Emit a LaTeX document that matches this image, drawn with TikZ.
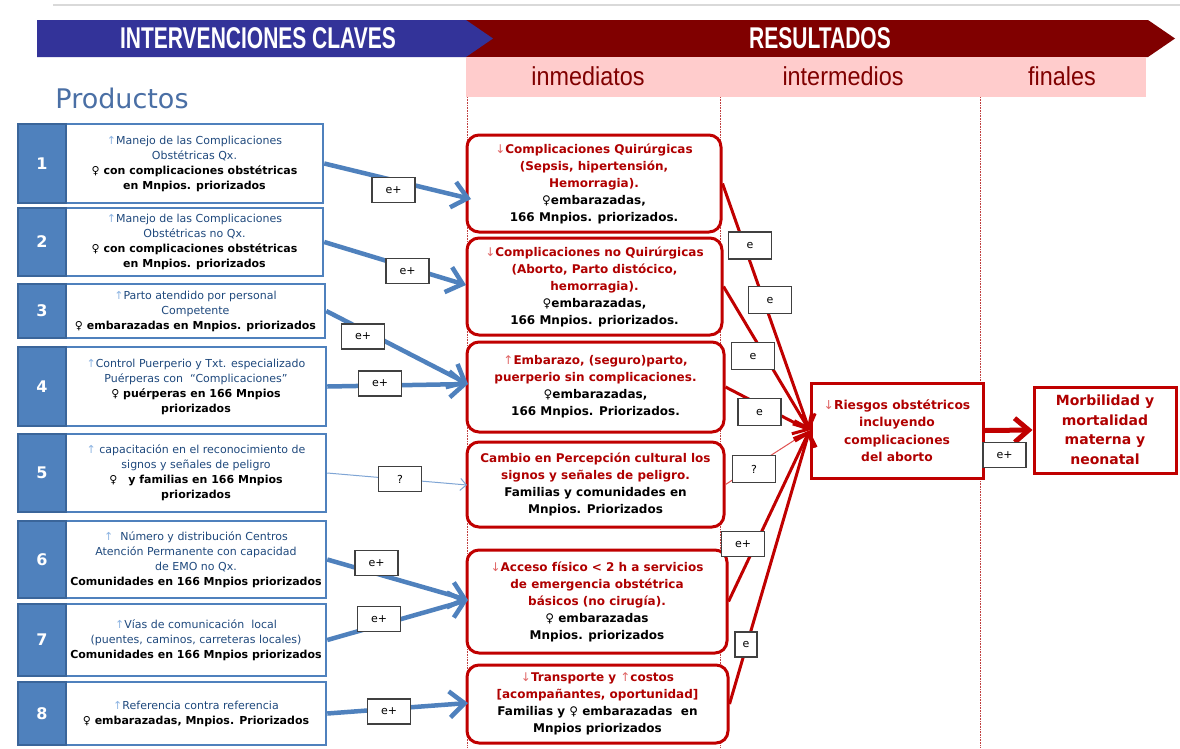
\documentclass[tikz,border=0pt]{standalone}
\usepackage{fontspec}
\setmainfont{DejaVu Sans}
\newfontfamily\arialf{Liberation Sans}
\usetikzlibrary{arrows.meta,calc}
\definecolor{bannerblue}{HTML}{333399}
\definecolor{bannerred}{HTML}{800000}
\definecolor{pinkband}{HTML}{FFCCCC}
\definecolor{boxblue}{HTML}{4F81BD}
\definecolor{boxblueD}{HTML}{3A659A}
\definecolor{txtblue}{HTML}{1F497D}
\definecolor{arrowlight}{HTML}{8DB4E2}
\definecolor{arrowpink}{HTML}{E06666}
\definecolor{boxred}{HTML}{C00000}
\definecolor{txtred}{HTML}{B00000}
\definecolor{maroonc}{HTML}{800000}
\definecolor{dotred}{HTML}{C04040}
\definecolor{prodblue}{HTML}{4A6FA5}
\definecolor{thinblue}{HTML}{7FA5D5}
\definecolor{thinred}{HTML}{E05050}
\newcommand{\fem}{{\mdseries ♀}}
\newcommand{\upb}{{\mdseries\color{arrowlight}↑}}
\newcommand{\upr}{{\mdseries\color{arrowpink}↑}}
\newcommand{\dnr}{{\mdseries\color{arrowpink}↓}}
\begin{document}
\begin{tikzpicture}[x=1pt,y=-1pt,
  lbtext/.style={draw=boxblue, line width=2.5, fill=white, align=center, inner sep=0,
     font=\fontsize{11}{15}\selectfont},
  numbox/.style={draw=boxblueD, fill=boxblue, line width=2.5, text=white, minimum width=48,
     font=\bfseries\fontsize{16}{16}\selectfont},
  rbox/.style={draw=boxred, line width=3, rounded corners=12, fill=white, align=center,
     inner sep=0, font=\bfseries\fontsize{12}{17}\selectfont},
  lab/.style={draw=black!75, line width=1.2, fill=white, font=\fontsize{11}{11}\selectfont,
     minimum width=43, minimum height=25, inner sep=0},
  bluearrow/.style={draw=boxblue, line width=4.5, -{Straight Barb[length=15pt,width=26pt]}},
  thinbluearrow/.style={draw=thinblue, line width=1, -{Straight Barb[length=6pt,width=12pt]}},
  redarrow/.style={draw=boxred, line width=3, -{Straight Barb[length=12pt,width=22pt]}},
  thinredarrow/.style={draw=thinred, line width=1},
  divider/.style={dotred, densely dotted, line width=0.6},
  colhead/.style={text=maroonc, font=\arialf\fontsize{26}{26}\selectfont}
]
\useasboundingbox (0,0) rectangle (1180,748);
\fill[white] (0,0) rectangle (1180,748);
% top line
\draw[black!15, line width=1.5] (53,5) -- (1180,5);
% banners
\fill[bannerred] (466,20) -- (1148,20) -- (1175,38.5) -- (1148,57) -- (466,57) -- cycle;
\fill[bannerblue] (37,20) -- (466,20) -- (493,38.5) -- (466,57) -- (37,57) -- cycle;
\node[text=white, font=\arialf\bfseries\fontsize{30}{30}\selectfont] (hdrL) at (258,38.5)
  {\scalebox{0.7}[1]{INTERVENCIONES CLAVES}};
\node[text=white, font=\arialf\bfseries\fontsize{30}{30}\selectfont] (hdrR) at (820,38.5)
  {\scalebox{0.7}[1]{RESULTADOS}};
\fill[pinkband] (466,57) rectangle (1146,97);
\node[colhead] (c1) at (588,76) {\scalebox{0.9}[1]{inmediatos}};
\node[colhead] (c2) at (843,76) {\scalebox{0.9}[1]{intermedios}};
\node[colhead] (c3) at (1062,76) {\scalebox{0.9}[1]{finales}};
% dividers
\draw[divider] (467,97) -- (467,748);
\draw[divider] (720,97) -- (720,748);
\draw[divider] (980,97) -- (980,748);
% Productos
\node[text=prodblue, font=\fontsize{27}{27}\selectfont] (prod) at (122,98) {Productos};

% left boxes
\node[lbtext, minimum width=257, minimum height=79] (b1) at (194.5,163.5)
 {\textcolor{txtblue}{\upb Manejo de las Complicaciones}\\ \textcolor{txtblue}{Obstétricas Qx.}\\
  \textbf{\fem\ con complicaciones obstétricas}\\ \textbf{en Mnpios. priorizados}};
\node[numbox, minimum height=79] (n1) at (42,163.5) {1};
\node[lbtext, minimum width=257, minimum height=68] (b2) at (194.5,242)
 {\textcolor{txtblue}{\upb Manejo de las Complicaciones}\\ \textcolor{txtblue}{Obstétricas no Qx.}\\
  \textbf{\fem\ con complicaciones obstétricas}\\ \textbf{en Mnpios. priorizados}};
\node[numbox, minimum height=68] (n2) at (42,242) {2};
\node[lbtext, minimum width=259, minimum height=54] (b3) at (195.5,311)
 {\textcolor{txtblue}{\upb Parto atendido por personal}\\ \textcolor{txtblue}{Competente}\\
  \textbf{\fem\ embarazadas en Mnpios. priorizados}};
\node[numbox, minimum height=54] (n3) at (42,311) {3};
\node[lbtext, minimum width=260, minimum height=79] (b4) at (196,386.5)
 {\textcolor{txtblue}{\upb Control Puerperio y Txt. especializado}\\ \textcolor{txtblue}{Puérperas con~ “Complicaciones”}\\
  \textbf{\fem\ puérperas en 166 Mnpios}\\ \textbf{priorizados}};
\node[numbox, minimum height=79] (n4) at (42,386.5) {4};
\node[lbtext, minimum width=260, minimum height=78] (b5) at (196,473)
 {\textcolor{txtblue}{\upb\ capacitación en el reconocimiento de}\\ \textcolor{txtblue}{signos y señales de peligro}\\
  \textbf{\fem\quad y familias en 166 Mnpios}\\ \textbf{priorizados}};
\node[numbox, minimum height=78] (n5) at (42,473) {5};
\node[lbtext, minimum width=260, minimum height=77] (b6) at (196,559.5)
 {\textcolor{txtblue}{\upb\ ~Número y distribución Centros}\\ \textcolor{txtblue}{Atención Permanente con capacidad}\\
  \textcolor{txtblue}{de EMO no Qx.}\\ \textbf{Comunidades en 166 Mnpios priorizados}};
\node[numbox, minimum height=77] (n6) at (42,559.5) {6};
\node[lbtext, minimum width=260, minimum height=72] (b7) at (196,640)
 {\textcolor{txtblue}{\upb Vías de comunicación~ local}\\ \textcolor{txtblue}{(puentes, caminos, carreteras locales)}\\
  \textbf{Comunidades en 166 Mnpios priorizados}};
\node[numbox, minimum height=72] (n7) at (42,640) {7};
\node[lbtext, minimum width=260, minimum height=63] (b8) at (196,713.5)
 {\textcolor{txtblue}{\upb Referencia contra referencia}\\ \textbf{\fem\ embarazadas, Mnpios. Priorizados}};
\node[numbox, minimum height=63] (n8) at (42,713.5) {8};

% red boxes (immediate results)
\node[rbox, minimum width=254, minimum height=97] (R1) at (594,183.5)
 {\textcolor{txtred}{\dnr Complicaciones Quirúrgicas}\\ \textcolor{txtred}{(Sepsis, hipertensión,}\\
  \textcolor{txtred}{Hemorragia).}\\ \fem embarazadas,\\ 166 Mnpios. priorizados.};
\node[rbox, minimum width=255, minimum height=97] (R2) at (594.5,286.5)
 {\textcolor{txtred}{\dnr Complicaciones no Quirúrgicas}\\ \textcolor{txtred}{(Aborto, Parto distócico,}\\
  \textcolor{txtred}{hemorragia).}\\ \fem embarazadas,\\ 166 Mnpios. priorizados.};
\node[rbox, minimum width=257, minimum height=90] (R3) at (595.5,387)
 {\textcolor{txtred}{\upr Embarazo, (seguro)parto,}\\ \textcolor{txtred}{puerperio sin complicaciones.}\\
  \fem embarazadas,\\ 166 Mnpios. Priorizados.};
\node[rbox, minimum width=257, minimum height=85] (R4) at (595.5,484.5)
 {\textcolor{txtred}{Cambio en Percepción cultural los}\\ \textcolor{txtred}{signos y señales de peligro.}\\
  Familias y comunidades en\\ Mnpios. Priorizados};
\node[rbox, minimum width=260, minimum height=103] (R5) at (597,601.5)
 {\textcolor{txtred}{\dnr Acceso físico < 2 h a servicios}\\ \textcolor{txtred}{de emergencia obstétrica}\\
  \textcolor{txtred}{básicos (no cirugía).}\\ \fem\ embarazadas\\ Mnpios. priorizados};
\node[rbox, minimum width=261, minimum height=78] (R6) at (597.5,704)
 {\textcolor{txtred}{\dnr Transporte y \upr costos}\\ \textcolor{txtred}{[acompañantes, oportunidad]}\\
  Familias y \fem\ embarazadas~ en\\ Mnpios priorizados};

% intermediate and final
\node[draw=boxred, line width=3, fill=white, align=center, inner sep=0, text=txtred,
  minimum width=172, minimum height=95, font=\bfseries\fontsize{12.3}{17.5}\selectfont] (I) at (897,430.5)
 {\dnr Riesgos obstétricos\\ incluyendo\\ complicaciones\\ del aborto};
\node[draw=boxred, line width=3, fill=white, align=center, inner sep=0, text=txtred,
  minimum width=142, minimum height=86, font=\bfseries\fontsize{14}{19.5}\selectfont] (F) at (1105,430)
 {Morbilidad y\\ mortalidad\\ materna y\\ neonatal};

% arrow tip coordinates
\coordinate (t1) at (471,199);
\coordinate (t2) at (466,285);
\coordinate (t3) at (468,384);
\coordinate (t5) at (467,485);
\coordinate (t6) at (468,600);
\coordinate (t8) at (468,703);

% blue connectors
\draw[bluearrow] (b1.east) -- (t1);
\draw[bluearrow] (b2.east) -- (t2);
\draw[bluearrow] (b3.east) -- (t3);
\draw[bluearrow] (b4.east) -- (t3);
\draw[thinbluearrow] (b5.east) -- (t5);
\draw[bluearrow] (b6.east) -- (t6);
\draw[bluearrow] (b7.east) -- (t6);
\draw[bluearrow] (b8.east) -- (t8);

% red connectors
\draw[redarrow] (R1.east) -- (I.west);
\draw[redarrow] (R2.east) -- (I.west);
\draw[redarrow] (R3.east) -- (I.west);
\draw[thinredarrow] (R4.east) -- (I.west);
\draw[redarrow] (R5.east) -- (I.west);
\draw[redarrow] (R6.east) -- (I.west);
\draw[draw=boxred, line width=5, -{Straight Barb[length=14pt,width=24pt]}] (I.east) -- (F.west);

% labels
\node[lab] (l1) at (393.5,190) {e+};
\node[lab] (l2) at (407.5,271) {e+};
\node[lab] (l3) at (363,336.5) {e+};
\node[lab] (l4) at (380,383.5) {e+};
\node[lab] (l5) at (400,479) {?};
\node[lab] (l6) at (376.5,563) {e+};
\node[lab] (l7) at (379,619) {e+};
\node[lab] (l8) at (389,711.5) {e+};
\node[lab, minimum height=27] (m1) at (750,245.5) {e};
\node[lab, minimum height=27] (m2) at (770,300) {e};
\node[lab, minimum height=27] (m3) at (753,356) {e};
\node[lab, minimum height=27] (m4) at (759.5,412) {e};
\node[lab, minimum height=27] (m5) at (754,469) {?};
\node[lab] (m6) at (743,544) {e+};
\node[lab, minimum width=22] (m7) at (746,644.5) {e};
\node[lab] (mf) at (1004.5,455) {e+};
\end{tikzpicture}
\end{document}
